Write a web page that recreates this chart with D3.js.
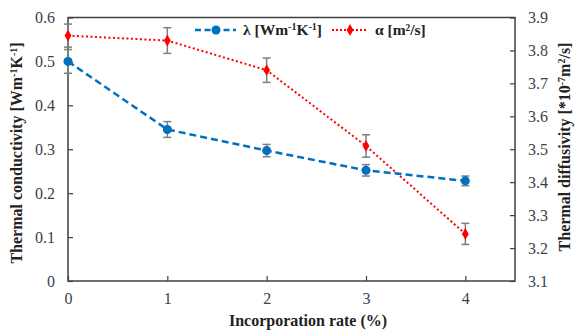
<!DOCTYPE html>
<html>
<head>
<meta charset="utf-8">
<script src="https://cdn.jsdelivr.net/npm/d3@7"></script>
<style>
  body { margin: 0; background: #fff; }
</style>
</head>
<body>
<svg id="chart"></svg>
<script>
// incorporation rate (%)
const rates = [0, 1, 2, 3, 4];
// thermal conductivity λ [Wm-1K-1] and its error
const lambda = [0.500, 0.345, 0.297, 0.252, 0.228];
const lambdaErr = [0.027, 0.018, 0.014, 0.013, 0.011];
// thermal diffusivity α [*10^-7 m2/s] and its error
const alpha = [3.845, 3.830, 3.740, 3.510, 3.243];
const alphaErr = [0.035, 0.039, 0.037, 0.034, 0.032];

const leftTicks = [0, 0.1, 0.2, 0.3, 0.4, 0.5, 0.6];
const rightTicks = [3.1, 3.2, 3.3, 3.4, 3.5, 3.6, 3.7, 3.8, 3.9];

const width = 577, height = 334;
const m = { left: 68, right: 62, top: 17.5, bottom: 53 };

const svg = d3.select("#chart")
    .attr("width", width)
    .attr("height", height);

const x = d3.scaleLinear().domain([0, 4.5]).range([m.left, width - m.right]);
const yL = d3.scaleLinear().domain([0, 0.6]).range([height - m.bottom, m.top]);
const yR = d3.scaleLinear().domain([3.1, 3.9]).range([height - m.bottom, m.top]);

const axisColor = "#404040";
const tickColor = "#3a3f4a";
const serif = "'Liberation Serif', 'Times New Roman', serif";

// frame
svg.append("rect")
    .attr("x", m.left).attr("y", m.top)
    .attr("width", width - m.left - m.right)
    .attr("height", height - m.top - m.bottom)
    .attr("fill", "none")
    .attr("stroke", axisColor)
    .attr("stroke-width", 1.5);

// axes with inward ticks
const styleAxis = g => {
    g.attr("font-family", serif).attr("font-size", 16);
    g.select(".domain").remove();
    g.selectAll(".tick line").attr("stroke", axisColor).attr("stroke-width", 1.2);
    g.selectAll(".tick text").attr("fill", tickColor);
};

svg.append("g")
    .attr("transform", `translate(0,${height - m.bottom})`)
    .call(d3.axisBottom(x).tickValues(rates).tickSizeInner(-5).tickPadding(12).tickFormat(d3.format("d")))
    .call(styleAxis);

svg.append("g")
    .attr("transform", `translate(${m.left},0)`)
    .call(d3.axisLeft(yL).tickValues(leftTicks).tickSizeInner(-5).tickPadding(13)
        .tickFormat(d => d === 0 ? "0" : d3.format(".1f")(d)))
    .call(styleAxis);

svg.append("g")
    .attr("transform", `translate(${width - m.right},0)`)
    .call(d3.axisRight(yR).tickValues(rightTicks).tickSizeInner(-5).tickPadding(13).tickFormat(d3.format(".1f")))
    .call(styleAxis);

const blue = "#0070C0", red = "#FF0000";
const alphaData = rates.map((r, i) => ({ r, v: alpha[i], e: alphaErr[i] }));
const lambdaData = rates.map((r, i) => ({ r, v: lambda[i], e: lambdaErr[i] }));

// red dotted line (α)
svg.append("path")
    .datum(alphaData)
    .attr("fill", "none")
    .attr("stroke", red)
    .attr("stroke-width", 2)
    .attr("stroke-dasharray", "2,2.5")
    .attr("d", d3.line().x(d => x(d.r)).y(d => yR(d.v)));

// blue dashed line (λ)
svg.append("path")
    .datum(lambdaData)
    .attr("fill", "none")
    .attr("stroke", blue)
    .attr("stroke-width", 2.5)
    .attr("stroke-dasharray", "7,4")
    .attr("d", d3.line().x(d => x(d.r)).y(d => yL(d.v)));

// error bars
function errorBars(data, y) {
    const g = svg.append("g").attr("stroke", "#7f7f7f").attr("stroke-width", 1.5);
    g.selectAll("line.v").data(data).join("line")
        .attr("x1", d => x(d.r)).attr("x2", d => x(d.r))
        .attr("y1", d => y(d.v - d.e)).attr("y2", d => y(d.v + d.e));
    g.selectAll("line.t").data(data).join("line")
        .attr("x1", d => x(d.r) - 4).attr("x2", d => x(d.r) + 4)
        .attr("y1", d => y(d.v + d.e)).attr("y2", d => y(d.v + d.e));
    g.selectAll("line.b").data(data).join("line")
        .attr("x1", d => x(d.r) - 4).attr("x2", d => x(d.r) + 4)
        .attr("y1", d => y(d.v - d.e)).attr("y2", d => y(d.v - d.e));
}
errorBars(alphaData, yR);
errorBars(lambdaData, yL);

const diamond = d3.symbol().type(d3.symbolDiamond).size(40);

svg.append("g").selectAll("path").data(alphaData).join("path")
    .attr("transform", d => `translate(${x(d.r)},${yR(d.v)})`)
    .attr("d", diamond)
    .attr("fill", red);

svg.append("g").selectAll("circle").data(lambdaData).join("circle")
    .attr("cx", d => x(d.r)).attr("cy", d => yL(d.v))
    .attr("r", 4.5)
    .attr("fill", blue);

// text with superscripts: parts are [text, isSup]
function withSup(sel, parts) {
    let shift = 0;
    parts.forEach(([txt, sup]) => {
        const target = sup ? -5 : 0;
        const ts = sel.append("tspan").attr("dy", target - shift).text(txt);
        if (sup) ts.attr("font-size", 10);
        shift = target;
    });
}

// legend
const lg = svg.append("g").attr("transform", "translate(0,30)")
    .attr("font-family", serif).attr("font-size", 15.5).attr("font-weight", "bold").attr("fill", "#222");
lg.append("line").attr("x1", 195).attr("x2", 236).attr("y1", 0).attr("y2", 0)
    .attr("stroke", blue).attr("stroke-width", 2.5).attr("stroke-dasharray", "6,3.5");
lg.append("circle").attr("cx", 216).attr("cy", 0).attr("r", 4.5).attr("fill", blue);
withSup(lg.append("text").attr("x", 243).attr("y", 5),
    [["λ [Wm"], ["-1", true], ["K"], ["-1", true], ["]"]]);

lg.append("line").attr("x1", 332).attr("x2", 366).attr("y1", 0).attr("y2", 0)
    .attr("stroke", red).attr("stroke-width", 2).attr("stroke-dasharray", "2,2");
lg.append("path").attr("transform", "translate(350,0)").attr("d", diamond).attr("fill", red);
lg.append("text").attr("x", 375).attr("y", 5).text("α [m²/s]");

// axis titles
const titles = svg.append("g")
    .attr("font-family", serif).attr("font-size", 16).attr("font-weight", "bold").attr("fill", "#222")
    .attr("text-anchor", "middle");

titles.append("text")
    .attr("x", 308).attr("y", 326)
    .text("Incorporation rate (%)");

withSup(titles.append("text").attr("transform", "translate(22,153) rotate(-90)"),
    [["Thermal conductivity [Wm"], ["-1", true], ["K"], ["-1", true], ["]"]]);

withSup(titles.append("text").attr("transform", "translate(570,147) rotate(-90)"),
    [["Thermal diffusivity [*10"], ["-7", true], ["m"], ["2", true], ["/s]"]]);
</script>
</body>
</html>
